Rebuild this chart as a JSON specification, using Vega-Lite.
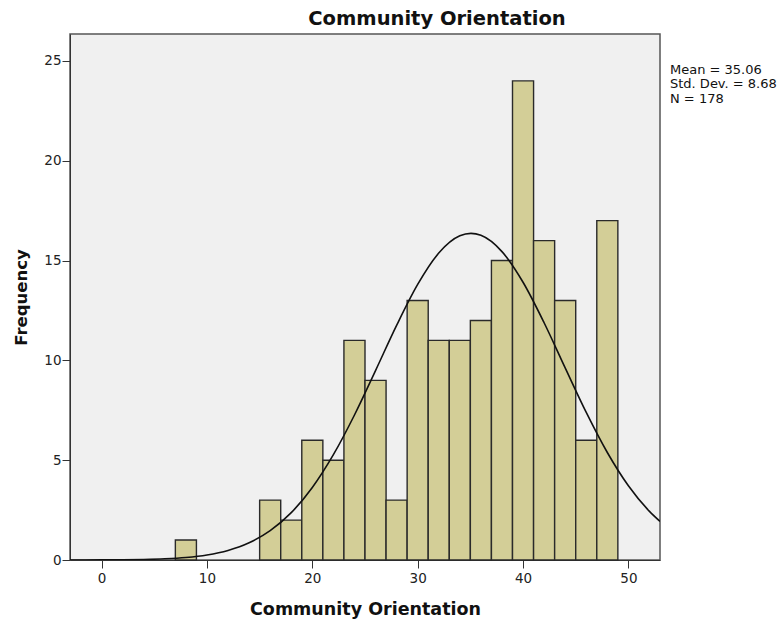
{
  "$schema": "https://vega.github.io/schema/vega-lite/v6.json",
  "width": 590,
  "height": 526,
  "autosize": {"type": "none"},
  "padding": {"left": 70, "top": 34, "right": 124, "bottom": 64},
  "background": "white",
  "config": {
    "font": "DejaVu Sans",
    "view": {"fill": "#F0F0F0", "stroke": "#555555", "strokeWidth": 1.5},
    "axis": {
      "grid": false,
      "labelFont": "DejaVu Sans",
      "labelFontSize": 13.5,
      "labelColor": "#222222",
      "titleFont": "DejaVu Sans",
      "titleFontSize": 17.5,
      "titleFontWeight": "bold",
      "titleColor": "#111111",
      "domainColor": "#333333",
      "tickColor": "#333333",
      "tickSize": 8
    }
  },
  "title": {
    "text": "Community Orientation",
    "fontSize": 19.5,
    "fontWeight": "bold",
    "font": "DejaVu Sans",
    "color": "#111111",
    "anchor": "middle",
    "dx": 72,
    "offset": 5
  },
  "datasets": {
    "bins": [
      {"bin_start": 7, "bin_end": 9, "count": 1},
      {"bin_start": 15, "bin_end": 17, "count": 3},
      {"bin_start": 17, "bin_end": 19, "count": 2},
      {"bin_start": 19, "bin_end": 21, "count": 6},
      {"bin_start": 21, "bin_end": 23, "count": 5},
      {"bin_start": 23, "bin_end": 25, "count": 11},
      {"bin_start": 25, "bin_end": 27, "count": 9},
      {"bin_start": 27, "bin_end": 29, "count": 3},
      {"bin_start": 29, "bin_end": 31, "count": 13},
      {"bin_start": 31, "bin_end": 33, "count": 11},
      {"bin_start": 33, "bin_end": 35, "count": 11},
      {"bin_start": 35, "bin_end": 37, "count": 12},
      {"bin_start": 37, "bin_end": 39, "count": 15},
      {"bin_start": 39, "bin_end": 41, "count": 24},
      {"bin_start": 41, "bin_end": 43, "count": 16},
      {"bin_start": 43, "bin_end": 45, "count": 13},
      {"bin_start": 45, "bin_end": 47, "count": 6},
      {"bin_start": 47, "bin_end": 49, "count": 17}
    ],
    "curve": [
      {"x": -3, "y": 0.0011},
      {"x": 0, "y": 0.0047},
      {"x": 2, "y": 0.0116},
      {"x": 4, "y": 0.0271},
      {"x": 6, "y": 0.0603},
      {"x": 8, "y": 0.127},
      {"x": 10, "y": 0.253},
      {"x": 12, "y": 0.480},
      {"x": 14, "y": 0.862},
      {"x": 16, "y": 1.468},
      {"x": 18, "y": 2.371},
      {"x": 20, "y": 3.632},
      {"x": 22, "y": 5.275},
      {"x": 24, "y": 7.264},
      {"x": 26, "y": 9.489},
      {"x": 28, "y": 11.753},
      {"x": 30, "y": 13.805},
      {"x": 32, "y": 15.375},
      {"x": 34, "y": 16.238},
      {"x": 35.06, "y": 16.36},
      {"x": 36, "y": 16.264},
      {"x": 38, "y": 15.448},
      {"x": 40, "y": 13.914},
      {"x": 42, "y": 11.886},
      {"x": 44, "y": 9.626},
      {"x": 46, "y": 7.393},
      {"x": 48, "y": 5.386},
      {"x": 50, "y": 3.720},
      {"x": 52, "y": 2.436},
      {"x": 53, "y": 1.932}
    ],
    "stats": [
      {"label": "Mean = 35.06", "y": 24.57},
      {"label": "Std. Dev. = 8.68", "y": 23.84},
      {"label": "N = 178", "y": 23.11}
    ]
  },
  "layer": [
    {
      "data": {"name": "bins"},
      "mark": {"type": "rect", "fill": "#D3CE97", "stroke": "#2a2a2a", "strokeWidth": 1.4},
      "encoding": {
        "x": {
          "field": "bin_start",
          "type": "quantitative",
          "scale": {"domain": [-3, 53], "nice": false, "zero": false},
          "axis": {
            "values": [0, 10, 20, 30, 40, 50],
            "title": "Community Orientation",
            "labelPadding": 3,
            "titlePadding": 16
          }
        },
        "x2": {"field": "bin_end"},
        "y": {
          "field": "count",
          "type": "quantitative",
          "scale": {"domain": [0, 26.35], "nice": false},
          "axis": {
            "values": [0, 5, 10, 15, 20, 25],
            "title": "Frequency",
            "titleFontSize": 16.5,
            "labelPadding": 1,
            "titlePadding": 14
          }
        },
        "y2": {"datum": 0}
      }
    },
    {
      "data": {"name": "curve"},
      "mark": {"type": "line", "color": "#111111", "strokeWidth": 1.6, "interpolate": "monotone", "clip": true},
      "encoding": {
        "x": {"field": "x", "type": "quantitative"},
        "y": {"field": "y", "type": "quantitative"}
      }
    },
    {
      "data": {"name": "stats"},
      "mark": {"type": "text", "align": "left", "baseline": "middle", "dx": 10, "fontSize": 13, "font": "DejaVu Sans", "color": "#111111", "clip": false},
      "encoding": {
        "x": {"datum": 53, "type": "quantitative"},
        "y": {"field": "y", "type": "quantitative"},
        "text": {"field": "label"}
      }
    }
  ]
}
